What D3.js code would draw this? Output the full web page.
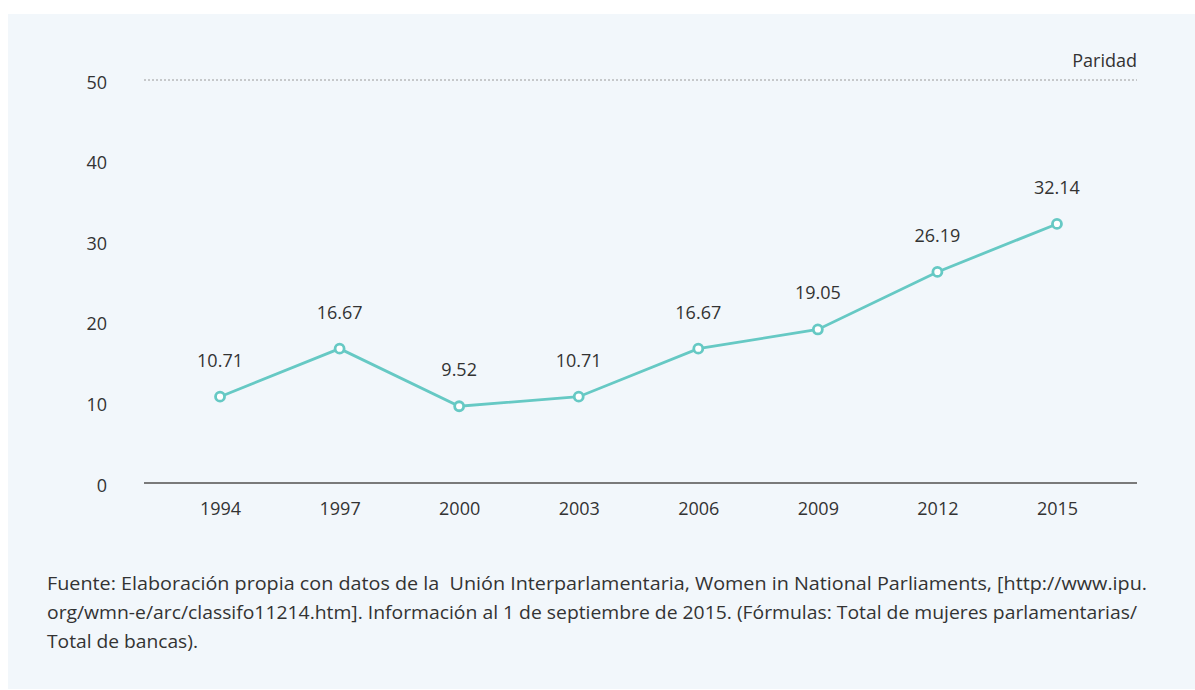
<!DOCTYPE html>
<html>
<head>
<meta charset="utf-8">
<script src="https://cdn.jsdelivr.net/npm/d3@7"></script>
<style>
  html, body { margin: 0; padding: 0; background: #ffffff; }
  svg { display: block; }
  text { font-family: "Open Sans", "Noto Sans", sans-serif; fill: #333333; }
</style>
</head>
<body>
<svg id="chart" width="1195" height="690"></svg>
<script>
const years = ["1994", "1997", "2000", "2003", "2006", "2009", "2012", "2015"];
const values = [10.71, 16.67, 9.52, 10.71, 16.67, 19.05, 26.19, 32.14];
const valueLabels = ["10.71", "16.67", "9.52", "10.71", "16.67", "19.05", "26.19", "32.14"];
const yTicks = [0, 10, 20, 30, 40, 50];
const parityValue = 50;
const parityLabel = "Paridad";
const footnoteLines = [
  "Fuente: Elaboración propia con datos de la  Unión Interparlamentaria, Women in National Parliaments, [http://www.ipu.",
  "org/wmn-e/arc/classifo11214.htm]. Información al 1 de septiembre de 2015. (Fórmulas: Total de mujeres parlamentarias/",
  "Total de bancas)."
];
const footnoteWidths = [1100, 1090, 151];

const svg = d3.select("#chart");
const W = 1195, H = 690;

svg.append("rect")
  .attr("x", 8).attr("y", 14).attr("width", W - 8).attr("height", 675)
  .attr("fill", "#f2f7fb");

const x = d3.scalePoint().domain(years).range([144, 1133]).padding(0.636);
const y = d3.scaleLinear().domain([0, 50]).range([483, 80]);

// Y tick labels
const yAxis = d3.axisLeft(y).tickValues(yTicks).tickSize(0).tickPadding(0);
const gy = svg.append("g").attr("transform", "translate(107,0)").call(yAxis);
gy.select(".domain").remove();
gy.selectAll("text")
  .attr("font-size", 18).attr("fill", "#333").attr("dy", "0.45em")
  .style("font-family", '"Open Sans", sans-serif');

// parity dotted line
svg.append("line")
  .attr("x1", 144).attr("x2", 1137)
  .attr("y1", y(parityValue)).attr("y2", y(parityValue))
  .attr("stroke", "#9a9a9a").attr("stroke-width", 1)
  .attr("stroke-dasharray", "2,2");
svg.append("text")
  .attr("x", 1137).attr("y", y(parityValue) - 13)
  .attr("text-anchor", "end").attr("font-size", 18)
  .text(parityLabel);

// X axis
const xAxis = d3.axisBottom(x).tickSize(0).tickPadding(19);
const gx = svg.append("g").attr("transform", `translate(0,${y(0)})`).call(xAxis);
gx.select(".domain").remove();
svg.append("line")
  .attr("x1", 144).attr("x2", 1137).attr("y1", y(0)).attr("y2", y(0))
  .attr("stroke", "#7a7a7a").attr("stroke-width", 2);
gx.selectAll("text")
  .attr("font-size", 18).attr("fill", "#333")
  .style("font-family", '"Open Sans", sans-serif');

// Line
const data = years.map((yr, i) => ({ yr, v: values[i], label: valueLabels[i] }));
const line = d3.line().x(d => x(d.yr)).y(d => y(d.v));
svg.append("path").datum(data)
  .attr("d", line).attr("fill", "none")
  .attr("stroke", "#66c9c4").attr("stroke-width", 2.8);

svg.selectAll("circle.pt").data(data).enter().append("circle")
  .attr("class", "pt")
  .attr("cx", d => x(d.yr)).attr("cy", d => y(d.v))
  .attr("r", 4.5).attr("fill", "#ffffff")
  .attr("stroke", "#66c9c4").attr("stroke-width", 2.8);

svg.selectAll("text.lbl").data(data).enter().append("text")
  .attr("class", "lbl")
  .attr("x", d => x(d.yr)).attr("y", d => y(d.v) - 30)
  .attr("text-anchor", "middle").attr("font-size", 18)
  .text(d => d.label);

// Footnote
svg.selectAll("text.fn").data(footnoteLines).enter().append("text")
  .attr("class", "fn")
  .attr("x", 47).attr("y", (d, i) => 590 + i * 29)
  .attr("font-size", 17.5).attr("fill", "#333")
  .style("white-space", "pre")
  .attr("textLength", (d, i) => footnoteWidths[i])
  .attr("lengthAdjust", "spacingAndGlyphs")
  .text(d => d);
</script>
</body>
</html>
